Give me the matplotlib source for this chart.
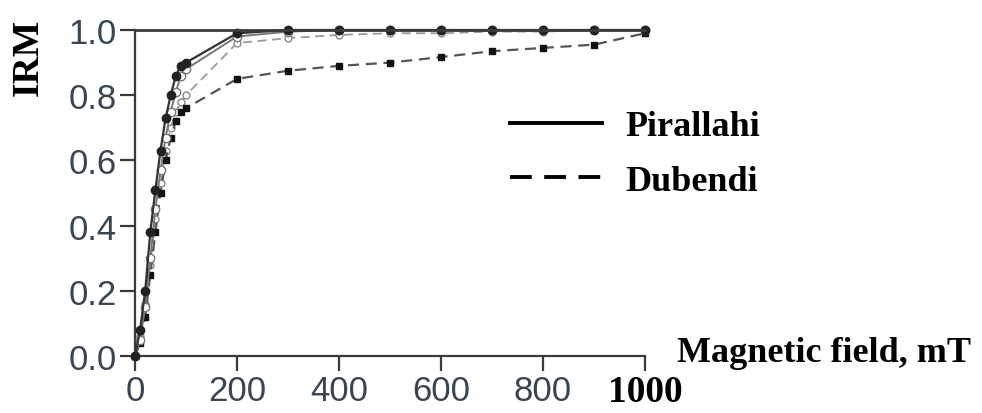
import matplotlib
matplotlib.use("Agg")
import matplotlib.pyplot as plt
from matplotlib.lines import Line2D

# ---- data ----
field_low = [0, 10, 20, 30, 40, 50, 60, 70, 80, 90, 100]
field_high = [200, 300, 400, 500, 600, 700, 800, 900, 1000]
field = field_low + field_high

pir_a = [0.0, 0.08, 0.20, 0.38, 0.51, 0.63, 0.73, 0.80, 0.86, 0.89, 0.90,
         0.99, 1.0, 1.0, 1.0, 1.0, 1.0, 1.0, 1.0, 1.0]
pir_b = [0.0, 0.05, 0.15, 0.30, 0.45, 0.57, 0.67, 0.75, 0.81, 0.86, 0.88,
         0.98, 0.995, 1.0, 1.0, 1.0, 1.0, 1.0, 1.0, 1.0]
dub_a = [0.0, 0.04, 0.12, 0.25, 0.38, 0.50, 0.60, 0.67, 0.72, 0.75, 0.76,
         0.85, 0.875, 0.89, 0.90, 0.917, 0.935, 0.945, 0.955, 0.99]
dub_b = [0.0, 0.06, 0.16, 0.28, 0.42, 0.53, 0.63, 0.70, 0.75, 0.78, 0.80,
         0.96, 0.975, 0.985, 0.99, 0.99, 0.995, 0.995, 1.0, 1.0]

xticks = [0, 200, 400, 600, 800, 1000]
yticks = [0.0, 0.2, 0.4, 0.6, 0.8, 1.0]
series_labels = ["Pirallahi", "Dubendi"]

# ---- figure ----
fig = plt.figure(figsize=(9.82, 4.14), dpi=100)
ax = fig.add_axes([135/982, 1-357/414, 510/982, 326/414])

tick_col = "#3a4552"
spine_col = "#3a3a3a"

ax.plot(field, dub_b, color="#9a9a9a", lw=1.3, dashes=(5, 3), marker="o",
        ms=5, mfc="white", mec="#888888", clip_on=False, zorder=2)
ax.plot(field, dub_a, color="#555555", lw=1.6, dashes=(5, 3), marker="s",
        ms=5, mfc="#111111", mec="#111111", clip_on=False, zorder=3)
ax.plot(field, pir_b, color="#777777", lw=1.4, marker="o",
        ms=6, mfc="white", mec="#777777", clip_on=False, zorder=3)
ax.plot(field, pir_a, color="#333333", lw=1.6, marker="o",
        ms=6, mfc="#222222", mec="#222222", clip_on=False, zorder=4)

ax.axhline(1.0, color=spine_col, lw=2.0, zorder=5, clip_on=False)

ax.set_xlim(0, 1000)
ax.set_ylim(0, 1.0)
ax.set_xticks(xticks)
ax.set_yticks(yticks)
ax.set_yticklabels([f"{v:.1f}" for v in yticks])
ax.set_xticklabels([str(v) for v in xticks])

for s in ["top", "right"]:
    ax.spines[s].set_visible(False)
for s in ["left", "bottom"]:
    ax.spines[s].set_color(spine_col)
    ax.spines[s].set_linewidth(1.6)

ax.tick_params(axis="both", direction="out", length=11, width=1.6,
               color=spine_col, labelsize=25, labelcolor=tick_col, pad=2)
for lab in ax.get_xticklabels() + ax.get_yticklabels():
    lab.set_fontfamily("Liberation Sans")
# last x tick label bold serif black
xl = ax.get_xticklabels()
xl[-1].set_fontfamily("Liberation Serif")
xl[-1].set_fontweight("bold")
xl[-1].set_color("black")
xl[-1].set_fontsize(27)

serif = dict(family="Liberation Serif", weight="bold", color="black")
fig.text(28/982, 1-57/414, "IRM", rotation=90, ha="center", va="center",
         fontsize=27, **serif)
fig.text(677/982, 1-362/414, "Magnetic field, mT", ha="left", va="baseline",
         fontsize=26, **serif)

handles = [Line2D([], [], color="black", lw=2.8),
           Line2D([], [], color="black", lw=2.8, dashes=(5.6, 3.2))]
leg = fig.legend(handles, series_labels, loc="upper left",
                 bbox_to_anchor=(510/982, 1-111/414), frameon=False,
                 prop=dict(family="Liberation Serif", weight="bold", size=26),
                 handlelength=2.55, handletextpad=0.64, labelspacing=0.59,
                 borderpad=0, borderaxespad=0)

fig.savefig("out.png", dpi=100)
